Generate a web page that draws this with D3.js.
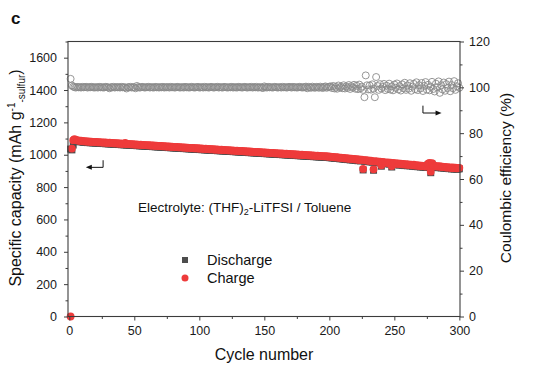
<!DOCTYPE html>
<html><head><meta charset="utf-8">
<script src="https://cdn.jsdelivr.net/npm/d3@7"></script>
<style>body{margin:0;background:#fff}svg{display:block;font-family:"Liberation Sans",Arial,sans-serif}</style>
</head><body><svg id="chart" width="544" height="370"></svg>
<script>
// ---- data ----
const discharge = [
1035,1030,1060,1090,1086,1083,1082,1080,1081,1079,
1077,1078,1076,1075,1077,1074,1075,1073,1074,1072,
1073,1071,1072,1070,1071,1069,1070,1068,1069,1067,
1068,1066,1067,1065,1066,1064,1065,1063,1064,1062,
1063,1061,1062,1060,1061,1059,1060,1058,1059,1057,
1058,1056,1057,1055,1056,1054,1055,1053,1054,1052,
1053,1051,1052,1050,1051,1049,1050,1048,1049,1047,
1048,1046,1047,1045,1046,1044,1045,1043,1044,1042,
1043,1041,1042,1040,1041,1039,1040,1038,1039,1037,
1038,1036,1037,1035,1036,1034,1035,1033,1034,1032,
1033,1031,1032,1030,1031,1029,1030,1028,1029,1027,
1028,1026,1027,1025,1026,1024,1025,1023,1024,1022,
1023,1021,1022,1020,1021,1019,1020,1018,1019,1017,
1018,1016,1017,1015,1016,1014,1015,1013,1014,1012,
1013,1011,1012,1010,1011,1009,1010,1008,1009,1007,
1008,1006,1007,1005,1006,1004,1005,1003,1004,1002,
1003,1001,1002,1000,1001,999,1000,998,999,997,
998,996,997,995,996,994,995,993,994,992,
993,991,992,990,991,989,990,988,989,987,
988,986,987,985,986,984,985,983,984,982,
982,980,981,978,979,977,978,975,976,974,
974,971,973,970,971,968,970,967,968,965,
967,963,965,962,964,906,960,961,958,959,
956,957,954,904,955,952,953,950,951,929,
950,946,947,944,946,942,945,924,943,939,
942,938,940,936,939,935,937,933,936,932,
934,931,933,929,932,927,930,926,928,924,
927,923,925,921,924,939,944,889,942,924,
926,922,924,920,923,918,921,917,919,915,
918,914,916,912,915,911,914,910,912,913];
const charge = [
0,1038,1090,1097,1092,1089,1088,1086,1087,1085,
1083,1084,1082,1081,1083,1080,1081,1079,1080,1078,
1079,1077,1078,1076,1077,1075,1076,1074,1075,1073,
1074,1072,1073,1071,1072,1070,1071,1069,1070,1068,
1069,1067,1073,1066,1067,1065,1066,1064,1065,1063,
1064,1062,1063,1061,1062,1060,1061,1059,1060,1058,
1059,1057,1058,1056,1057,1055,1056,1054,1055,1053,
1054,1052,1053,1051,1052,1050,1051,1049,1050,1048,
1049,1047,1048,1046,1047,1045,1046,1044,1045,1043,
1044,1042,1043,1041,1042,1040,1041,1039,1040,1038,
1039,1037,1038,1036,1037,1035,1036,1034,1035,1033,
1034,1032,1033,1031,1032,1030,1031,1029,1030,1028,
1029,1027,1028,1026,1027,1025,1026,1024,1025,1023,
1024,1022,1023,1021,1022,1020,1021,1019,1020,1018,
1019,1017,1018,1016,1017,1015,1016,1014,1015,1013,
1014,1012,1013,1011,1012,1010,1011,1009,1010,1008,
1009,1007,1008,1006,1007,1005,1006,1004,1005,1003,
1004,1002,1003,1001,1002,1000,1001,999,1000,998,
999,997,998,996,997,995,996,994,995,993,
994,992,993,991,992,990,991,989,990,988,
988,986,987,984,985,983,984,981,982,980,
980,977,979,976,977,974,976,973,974,971,
973,969,971,968,970,912,966,967,964,965,
962,963,960,910,961,958,959,956,957,935,
956,952,953,950,952,948,951,930,949,945,
948,944,946,942,945,941,943,939,942,938,
940,937,939,935,938,933,936,932,934,930,
933,929,931,927,930,945,950,895,948,930,
932,928,930,926,929,924,927,923,925,921,
924,920,922,918,921,917,920,916,918,919];
const efficiency = [
103.7,100.8,100.3,100.1,99.9,100.2,100.0,100.1,99.9,100.2,
100.0,100.1,100.2,99.9,100.1,100.0,100.2,100.1,99.9,100.0,
100.1,99.9,100.2,100.0,100.1,99.9,100.0,100.2,100.1,99.9,
99.6,100.1,100.0,100.2,99.9,100.1,100.0,100.1,99.9,100.2,
100.0,100.1,99.9,99.5,100.1,100.0,100.2,99.9,100.1,100.0,
99.6,100.6,100.1,99.9,100.0,100.2,100.1,99.9,100.0,100.1,
100.2,99.9,100.1,100.0,99.9,100.2,100.0,100.1,99.9,100.1,
100.0,100.2,99.9,100.1,100.0,100.1,99.9,100.2,100.0,100.1,
99.9,100.0,100.2,100.1,99.9,100.0,100.1,99.9,100.2,100.0,
100.1,99.9,100.0,100.2,100.1,99.9,100.0,100.1,100.2,99.9,
100.0,100.1,99.9,100.2,100.0,100.1,99.9,100.0,100.2,100.1,
99.9,100.0,100.1,100.2,99.9,100.1,100.0,99.9,100.2,100.1,
100.0,99.9,100.1,100.0,100.2,99.9,100.1,100.0,99.9,100.2,
100.1,100.0,99.9,100.1,100.2,100.0,99.9,100.1,100.0,100.2,
99.9,100.1,100.0,100.2,99.9,100.0,100.1,99.9,99.7,100.4,
100.1,99.9,100.2,100.0,100.1,99.9,100.0,100.2,100.1,99.9,
100.0,100.1,99.9,100.2,100.0,100.1,99.9,100.0,100.2,100.1,
99.9,100.2,100.0,100.1,99.9,100.0,100.2,100.1,99.9,100.0,
100.1,100.3,99.6,100.2,100.0,99.8,100.3,100.0,99.8,100.2,
100.1,99.8,100.3,100.0,99.7,100.2,100.4,99.8,100.1,100.3,
100.4,99.7,100.6,99.5,100.2,99.4,100.8,99.9,100.3,99.6,
100.9,99.5,100.4,99.8,101.0,99.3,100.5,99.9,101.1,99.4,
100.7,99.2,101.2,99.6,100.3,98.9,95.7,105.2,100.9,99.1,
100.8,99.0,101.3,99.4,95.7,104.5,100.6,98.9,101.4,99.5,
100.2,101.5,98.8,100.7,99.3,101.6,99.0,100.4,98.7,101.2,
99.8,101.7,99.1,100.5,98.6,101.3,99.6,102.0,98.9,100.8,
99.4,101.8,98.5,100.3,101.5,99.2,102.2,98.8,100.9,99.5,
101.9,98.4,100.6,102.3,99.0,101.1,98.7,100.2,102.4,99.3,
98.2,101.6,100.0,102.6,97.6,100.9,99.1,102.1,98.5,101.4,
99.7,102.5,98.3,101.0,99.6,102.7,98.9,100.5,101.8,99.8];
const cycles = discharge.map((d, i) => i + 1);
const xTicks = [0, 50, 100, 150, 200, 250, 300];
const xMinor = [25, 75, 125, 175, 225, 275];
const yLeftTicks = [0, 200, 400, 600, 800, 1000, 1200, 1400, 1600];
const yLeftMinor = [100, 300, 500, 700, 900, 1100, 1300, 1500, 1700];
const yRightTicks = [0, 20, 40, 60, 80, 100, 120];
const yRightMinor = [10, 30, 50, 70, 90, 110];
const seriesNames = ["Discharge", "Charge"];

// ---- layout ----
const L = 68, R = 460, T = 41.5, B = 316.5;
const svg = d3.select("#chart");
const x = d3.scaleLinear().domain([-1, 300.5]).range([L, R]);
const yL = d3.scaleLinear().domain([0, 1700]).range([B, T]);
const yR = d3.scaleLinear().domain([0, 120]).range([B, T]);
const axisColor = "#3c3c3c";
const red = "#ee3b3b", gray = "#4d4d4d", ceGray = "#8a8a8a";
const fmt = d3.format("d");

// CE circles
svg.append("g").selectAll("circle").data(cycles).join("circle")
  .attr("cx", d => x(d)).attr("cy", (d, i) => yR(efficiency[i])).attr("r", 3.5)
  .attr("fill", "none").attr("stroke", ceGray).attr("stroke-width", 0.9);

// discharge squares
svg.append("g").selectAll("rect").data(cycles).join("rect")
  .attr("x", d => x(d) - 3.5).attr("y", (d, i) => yL(discharge[i]) - 3.5)
  .attr("width", 7).attr("height", 7).attr("fill", gray);

// charge circles
svg.append("g").selectAll("circle").data(cycles).join("circle")
  .attr("cx", d => x(d)).attr("cy", (d, i) => yL(charge[i])).attr("r", 3.9)
  .attr("fill", red);

// axes
function styleAxis(g) {
  g.select(".domain").remove();
  g.selectAll("line").attr("stroke", axisColor).attr("stroke-width", 1);
  g.selectAll("text").attr("fill", "#1a1a1a").style("font-size", "12.5px")
    .style("font-family", '"Liberation Sans",Arial,sans-serif');
}
svg.append("g").attr("transform", `translate(0,${B})`)
  .call(d3.axisBottom(x).tickValues(xTicks).tickFormat(fmt).tickSize(4).tickPadding(6)).call(styleAxis);
svg.append("g").attr("transform", `translate(0,${B})`)
  .call(d3.axisBottom(x).tickValues(xMinor).tickSize(2.5).tickFormat("")).call(styleAxis);
svg.append("g").attr("transform", `translate(${L},0)`)
  .call(d3.axisLeft(yL).tickValues(yLeftTicks).tickFormat(fmt).tickSize(4).tickPadding(7)).call(styleAxis);
svg.append("g").attr("transform", `translate(${L},0)`)
  .call(d3.axisLeft(yL).tickValues(yLeftMinor).tickSize(2.5).tickFormat("")).call(styleAxis);
svg.append("g").attr("transform", `translate(${R},0)`)
  .call(d3.axisRight(yR).tickValues(yRightTicks).tickFormat(fmt).tickSize(4).tickPadding(5)).call(styleAxis);
svg.append("g").attr("transform", `translate(${R},0)`)
  .call(d3.axisRight(yR).tickValues(yRightMinor).tickSize(2.5).tickFormat("")).call(styleAxis);

// frame
svg.append("rect").attr("x", L).attr("y", T).attr("width", R - L).attr("height", B - T)
  .attr("fill", "none").attr("stroke", axisColor).attr("stroke-width", 1.1);

// panel letter
svg.append("text").attr("x", 11).attr("y", 24).text("c")
  .style("font-size", "17px").style("font-weight", "bold").attr("fill", "#111");

// axis titles
svg.append("text").attr("x", (L + R) / 2).attr("y", 360).attr("text-anchor", "middle")
  .style("font-size", "16px").attr("fill", "#111").text("Cycle number");

const lt = svg.append("text").attr("transform", "translate(21,178) rotate(-90)")
  .attr("text-anchor", "middle").style("font-size", "16px").attr("fill", "#111");
lt.append("tspan").text("Specific capacity (mAh g");
lt.append("tspan").attr("dy", -6).style("font-size", "10px").text("-1");
lt.append("tspan").attr("dy", 10).style("font-size", "10px").text("-sulfur");
lt.append("tspan").attr("dy", -4).text(")");

svg.append("text").attr("transform", "translate(511,178) rotate(-90)")
  .attr("text-anchor", "middle").style("font-size", "15.5px").attr("fill", "#111")
  .text("Coulombic efficiency (%)");

// electrolyte label
const el = svg.append("text").attr("x", 138).attr("y", 212)
  .style("font-size", "13.5px").attr("fill", "#111");
el.append("tspan").text("Electrolyte: (THF)");
el.append("tspan").attr("dy", 3).style("font-size", "9px").text("2");
el.append("tspan").attr("dy", -3).text("-LiTFSI / Toluene");

// legend
const leg = svg.append("g");
leg.append("rect").attr("x", 182).attr("y", 257).attr("width", 6).attr("height", 6).attr("fill", gray);
leg.append("circle").attr("cx", 185).attr("cy", 278).attr("r", 3.5).attr("fill", red);
leg.selectAll("text.lg").data(seriesNames).join("text").attr("class", "lg")
  .attr("x", 207).attr("y", (d, i) => 265 + i * 18).style("font-size", "14.5px")
  .attr("fill", "#111").text(d => d);

// indicator arrows
function arrow(pts, dir) {
  const line = d3.line();
  svg.append("path").attr("d", line(pts)).attr("fill", "none")
    .attr("stroke", "#111").attr("stroke-width", 1);
  const [ex, ey] = pts[pts.length - 1];
  const s = dir;
  svg.append("path").attr("d", `M${ex + s * 3},${ey} L${ex - s * 3},${ey - 2.5} L${ex - s * 3},${ey + 2.5} Z`)
    .attr("fill", "#111");
}
arrow([[x(26), yL(966)], [x(26), yL(922)], [x(15), yL(922)]], -1);
arrow([[x(272), yR(92)], [x(272), yR(88.8)], [x(284), yR(88.8)]], 1);
</script></body></html>
